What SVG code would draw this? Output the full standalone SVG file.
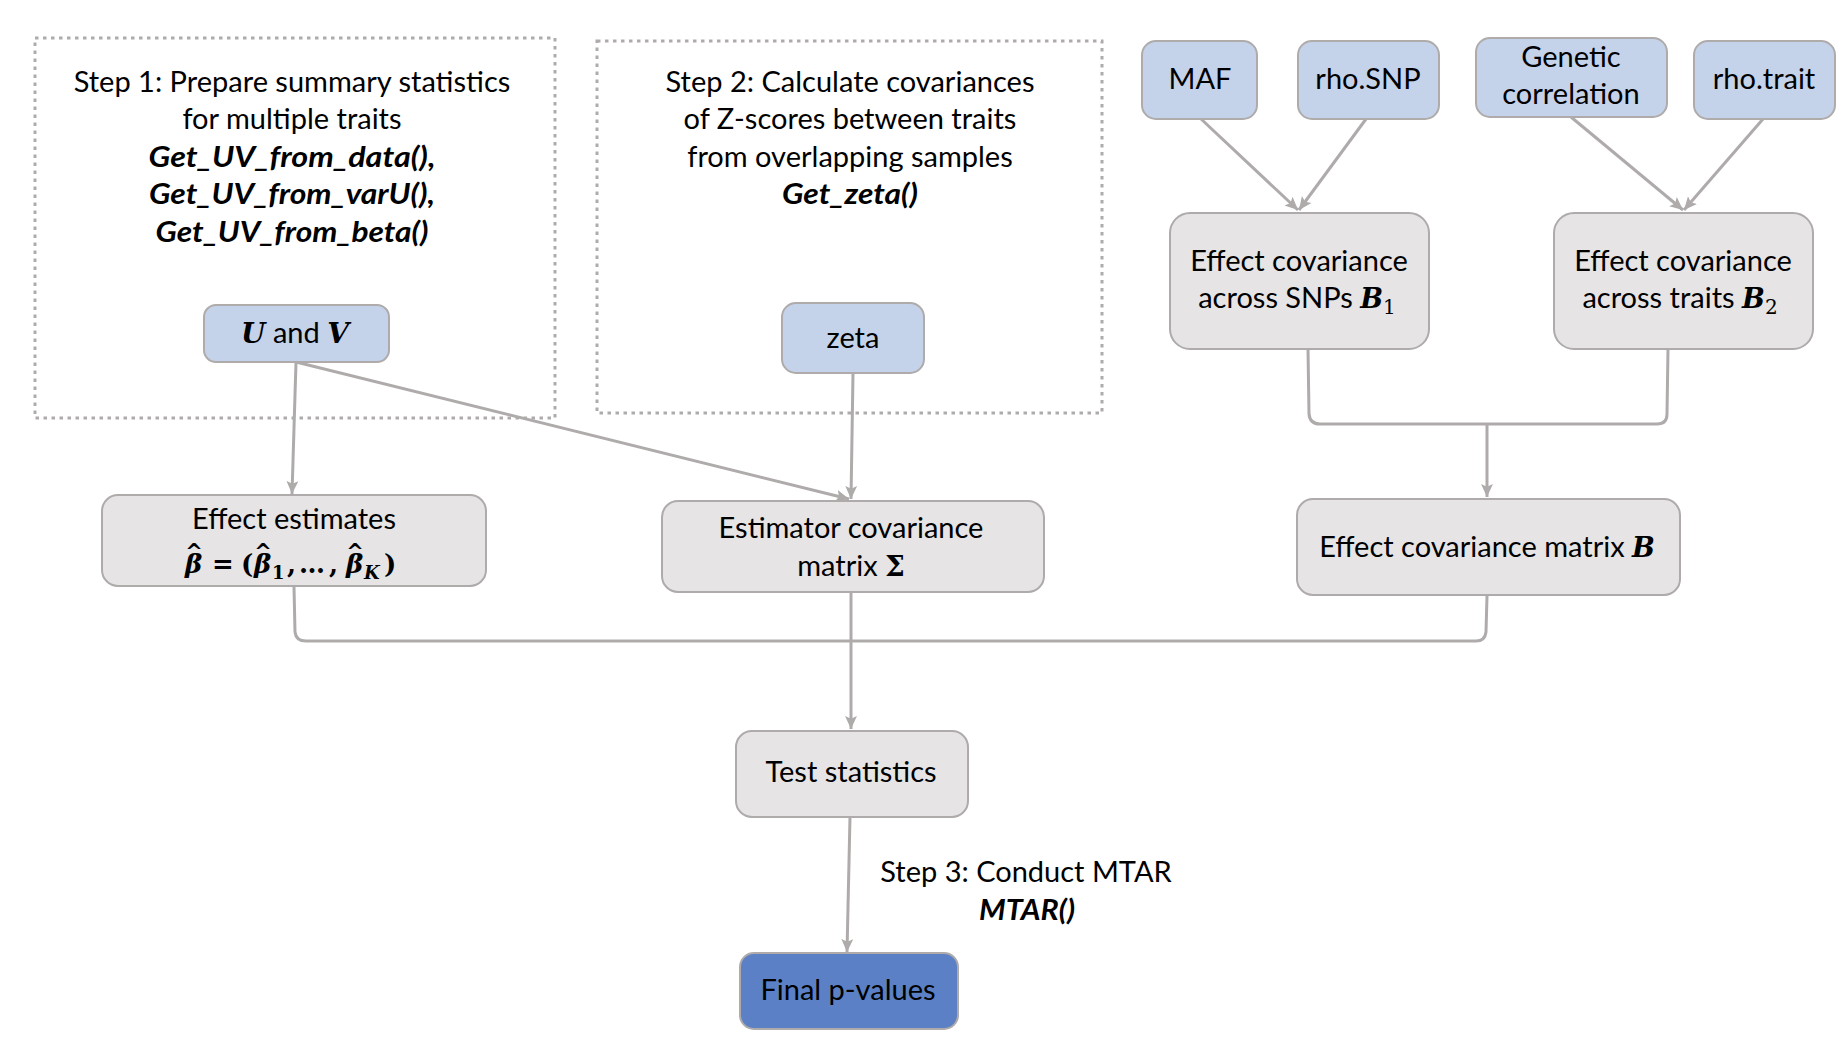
<svg xmlns="http://www.w3.org/2000/svg" width="1846" height="1052" viewBox="0 0 1846 1052">
<style>
  .bg{fill:#ffffff}
  .dash{fill:none;stroke:#AFABAB;stroke-width:3;stroke-dasharray:3.5 4.5}
  .blue{fill:#C5D3EA;stroke:#AFABAB;stroke-width:2}
  .gray{fill:#E6E4E5;stroke:#AFABAB;stroke-width:2}
  .dark{fill:#5B80C5;stroke:#AFABAB;stroke-width:2}
  .conn{fill:none;stroke:#AFABAB;stroke-width:3}
  .arr{marker-end:url(#ah)}
  text{font-family:Lato,"Liberation Sans",sans-serif;font-size:29px;fill:#000;text-anchor:middle}
  .bi{font-weight:bold;font-style:italic}
  .m{font-family:"DejaVu Serif","Liberation Serif",serif;font-weight:bold;font-style:italic}
  .ms{font-family:"DejaVu Serif","Liberation Serif",serif;font-weight:normal;font-style:normal}
  .mb{font-family:"DejaVu Serif","Liberation Serif",serif;font-weight:bold;font-style:normal}
  .f{text-anchor:start;font-size:26px}
  .hat{font-family:"DejaVu Sans",sans-serif;font-weight:bold;font-style:normal;font-size:21px;text-anchor:middle}
</style>
<defs>
  <marker id="ah" markerUnits="userSpaceOnUse" viewBox="0 0 12 12" markerWidth="13" markerHeight="13" refX="12" refY="6" orient="auto">
    <path d="M0,0.5 L12,6 L0,11.5 L2.5,6 z" fill="#AFABAB"/>
  </marker>
</defs>
<rect class="bg" x="0" y="0" width="1846" height="1052"/>

<g id="step1-box">
  <rect class="dash" x="35" y="38" width="520" height="380"/>
  <text x="292" y="92">Step 1: Prepare summary statistics</text>
  <text x="292" y="129">for multiple traits</text>
  <text x="292" y="167" class="bi" textLength="287" lengthAdjust="spacingAndGlyphs">Get_UV_from_data(),</text>
  <text x="292" y="204" class="bi" textLength="286" lengthAdjust="spacingAndGlyphs">Get_UV_from_varU(),</text>
  <text x="292" y="242" class="bi" textLength="273" lengthAdjust="spacingAndGlyphs">Get_UV_from_beta()</text>
</g>

<g id="step2-box">
  <rect class="dash" x="597" y="41" width="505" height="372"/>
  <text x="850" y="92">Step 2: Calculate covariances</text>
  <text x="850" y="129">of Z-scores between traits</text>
  <text x="850" y="167">from overlapping samples</text>
  <text x="850" y="204" class="bi" textLength="136" lengthAdjust="spacingAndGlyphs">Get_zeta()</text>
</g>

<g id="connectors">
  <path class="conn arr" d="M296,362 L292,494"/>
  <path class="conn arr" d="M296,362 L849,499"/>
  <path class="conn arr" d="M853,373 L851,499"/>
  <path class="conn arr" d="M1200,118 L1298,210"/>
  <path class="conn arr" d="M1366,119 L1299,210"/>
  <path class="conn arr" d="M1571,117 L1683,210"/>
  <path class="conn arr" d="M1763,119 L1684,210"/>
  <path class="conn" d="M1308,349 L1309,414 Q1310,424 1320,424 L1657,424 Q1667,424 1667,414 L1668,349"/>
  <path class="conn arr" d="M1487,424 L1487,497"/>
  <path class="conn" d="M294,587 L295,632 Q296,641 306,641 L1476,641 Q1485,641 1486,632 L1487,596"/>
  <path class="conn arr" d="M851,593 L851,729"/>
  <path class="conn arr" d="M850,817 L847,952"/>
</g>

<g id="node-uv">
  <rect class="blue" x="204" y="305" width="185" height="57" rx="12"/>
  <text x="295" y="343"><tspan class="m" font-size="28">U</tspan> and <tspan class="m" font-size="28">V</tspan></text>
</g>

<g id="node-zeta">
  <rect class="blue" x="782" y="303" width="142" height="70" rx="14"/>
  <text x="853" y="348">zeta</text>
</g>

<g id="node-maf">
  <rect class="blue" x="1142" y="41" width="115" height="78" rx="14"/>
  <text x="1200" y="89">MAF</text>
</g>

<g id="node-rhosnp">
  <rect class="blue" x="1298" y="41" width="141" height="78" rx="14"/>
  <text x="1368" y="89">rho.SNP</text>
</g>

<g id="node-genetic">
  <rect class="blue" x="1476" y="38" width="191" height="79" rx="14"/>
  <text x="1571" y="67">Genetic</text>
  <text x="1571" y="104">correlation</text>
</g>

<g id="node-rhotrait">
  <rect class="blue" x="1694" y="41" width="141" height="78" rx="14"/>
  <text x="1764" y="89">rho.trait</text>
</g>

<g id="node-b1">
  <rect class="gray" x="1170" y="213" width="259" height="136" rx="20"/>
  <text x="1299" y="271">Effect covariance</text>
  <text x="1297" y="308">across SNPs <tspan class="m" font-size="27">B</tspan><tspan class="ms" font-size="20" dy="6">1</tspan></text>
</g>

<g id="node-b2">
  <rect class="gray" x="1554" y="213" width="259" height="136" rx="20"/>
  <text x="1683" y="271">Effect covariance</text>
  <text x="1680" y="308">across traits <tspan class="m" font-size="27">B</tspan><tspan class="ms" font-size="20" dy="6">2</tspan></text>
</g>

<g id="node-effect-estimates">
  <rect class="gray" x="102" y="495" width="384" height="91" rx="16"/>
  <text x="294" y="529">Effect estimates</text>
  <text class="f m" x="185" y="573">β<tspan class="hat" x="194" y="559">^</tspan><tspan class="mb" x="212" y="573">=</tspan><tspan class="mb" x="241" y="573">(</tspan><tspan x="254" y="573">β</tspan><tspan class="hat" x="263" y="559">^</tspan><tspan class="mb" font-size="18" x="272" y="579">1</tspan><tspan class="mb" x="287" y="573">,</tspan><tspan class="mb" x="299" y="573">…</tspan><tspan class="mb" x="329" y="573">,</tspan><tspan x="346" y="573">β</tspan><tspan class="hat" x="355" y="559">^</tspan><tspan font-size="18" x="364" y="579">K</tspan><tspan class="mb" x="384" y="573">)</tspan></text>
</g>

<g id="node-estimator-cov">
  <rect class="gray" x="662" y="501" width="382" height="91" rx="16"/>
  <text x="851" y="538">Estimator covariance</text>
  <text x="851" y="576">matrix <tspan class="mb" font-size="28">Σ</tspan></text>
</g>

<g id="node-effect-cov-b">
  <rect class="gray" x="1297" y="499" width="383" height="96" rx="16"/>
  <text x="1487" y="557">Effect covariance matrix <tspan class="m" font-size="27">B</tspan></text>
</g>

<g id="node-test-stats">
  <rect class="gray" x="736" y="731" width="232" height="86" rx="16"/>
  <text x="851" y="782">Test statistics</text>
</g>

<g id="label-step3">
  <text x="1026" y="882">Step 3: Conduct MTAR</text>
  <text x="1027" y="920" class="bi" textLength="96" lengthAdjust="spacingAndGlyphs">MTAR()</text>
</g>

<g id="node-final">
  <rect class="dark" x="740" y="953" width="218" height="76" rx="14"/>
  <text x="848" y="1000">Final p-values</text>
</g>
</svg>
